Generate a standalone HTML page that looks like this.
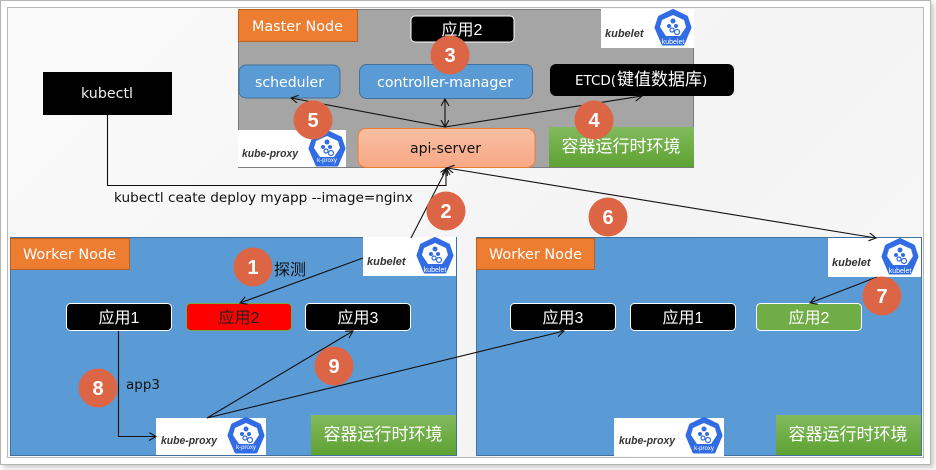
<!DOCTYPE html>
<html><head><meta charset="utf-8">
<style>
html,body{margin:0;padding:0;background:#fff}
body{width:936px;height:470px;position:relative;overflow:hidden;font-family:"Liberation Sans","Noto Sans CJK SC",sans-serif}
#outer{position:absolute;left:0;top:0;width:929px;height:463px;background:#fff;border:1px solid #b4b4b4;box-shadow:3px 3px 5px #ccc;box-sizing:content-box}
#inner{position:absolute;left:7px;top:7px;width:915px;height:449px;background:linear-gradient(135deg,#fafafa,#f4f4f4 60%,#f7f7f7);border:1px solid #b8b8b8}
svg{position:absolute;left:0;top:0}
.l{font-family:"DejaVu Sans",sans-serif}
</style></head><body>
<div id="outer"></div><div id="inner"></div>
<svg width="936" height="470" viewBox="0 0 936 470" xmlns="http://www.w3.org/2000/svg" font-family="'Liberation Sans','Noto Sans CJK SC',sans-serif">
<defs>
<linearGradient id="g" x1="0" y1="0" x2="0" y2="1"><stop offset="0" stop-color="#82ba5d"/><stop offset="1" stop-color="#5ea232"/></linearGradient>
<linearGradient id="o" x1="0" y1="0" x2="0" y2="1"><stop offset="0" stop-color="#f7bfa3"/><stop offset="1" stop-color="#f8a885"/></linearGradient>
<marker id="a" markerWidth="10" markerHeight="10" refX="8" refY="4" orient="auto-start-reverse" markerUnits="userSpaceOnUse"><path d="M1 0L8 4L1 8" fill="none" stroke="#111" stroke-width="1.1"/></marker>
<g id="hex"><path d="M0-17.500L13.500-11L17-.5L10 16L-10 16L-17-.5L-13.500-11Z" fill="#326ce5" stroke="#326ce5" stroke-width="3" stroke-linejoin="round"/><path d="M0-13L11-8L13-1L7 8L-7 8L-13-1L-11-8Z" fill="#fff"/><circle cx="0" cy="-7" r="2.500" fill="#326ce5"/><circle cx="-4" cy="-2" r="2" fill="#326ce5"/><circle cx="3" cy="-2" r="2" fill="#326ce5"/><circle cx="-1" cy="2" r="2" fill="none" stroke="#326ce5" stroke-width="1.200"/><circle cx="4" cy="4" r="2.500" fill="none" stroke="#326ce5" stroke-width="1.200"/></g>
</defs>

<!-- Master -->
<rect x="238.500" y="9.500" width="455" height="158" fill="#a5a5a5" stroke="#7c7c7c"/>
<rect x="238.500" y="9.500" width="119" height="32" fill="#ed7d31" stroke="#b85f22"/>
<text class="l" x="252" y="31" font-size="14" fill="#fff" textLength="91" lengthAdjust="spacingAndGlyphs">Master Node</text>
<rect x="411" y="16" width="103" height="26" rx="4" fill="#000" stroke="#fff"/>
<text x="462" y="35" font-size="16" fill="#fff" text-anchor="middle">应用2</text>
<rect x="239" y="65" width="101" height="33" rx="7" fill="#5b9bd5" stroke="#41719c"/>
<text class="l" x="255" y="87" font-size="14" fill="#fff" textLength="69" lengthAdjust="spacingAndGlyphs">scheduler</text>
<rect x="359.500" y="64.500" width="173" height="34" rx="7" fill="#5b9bd5" stroke="#41719c"/>
<text class="l" x="377" y="87" font-size="14" fill="#fff" textLength="136" lengthAdjust="spacingAndGlyphs">controller-manager</text>
<rect x="550" y="64" width="184" height="32" rx="6" fill="#000"/>
<text x="575" y="85" font-size="17" fill="#fff"><tspan class="l" font-size="13.500">ETCD(</tspan><tspan x="617">键值数据库</tspan><tspan class="l" x="702" font-size="13.500">)</tspan></text>
<rect x="238" y="130" width="108" height="37" fill="#fff"/>
<text x="242" y="157" font-size="11" font-style="italic" font-weight="bold" fill="#333" textLength="56" lengthAdjust="spacingAndGlyphs">kube-proxy</text>
<use href="#hex" transform="translate(327,149)"/>
<text x="327" y="162" font-size="6" fill="#fff" text-anchor="middle">k-proxy</text>
<rect x="358" y="128.500" width="177" height="39" rx="8" fill="url(#o)" stroke="#ed7d31"/>
<text class="l" x="410" y="153" font-size="14" fill="#111" textLength="71" lengthAdjust="spacingAndGlyphs">api-server</text>
<rect x="549" y="127" width="145" height="40" fill="url(#g)"/>
<text x="621" y="152" font-size="17" fill="#fff" text-anchor="middle">容器运行时环境</text>
<rect x="601" y="9" width="93" height="39" fill="#fff"/>
<text x="605" y="37" font-size="11" font-style="italic" font-weight="bold" fill="#333">kubelet</text>
<use href="#hex" transform="translate(673,28)"/>
<text x="673" y="44" font-size="7" fill="#fff" text-anchor="middle">kubelet</text>

<!-- kubectl -->
<rect x="43" y="72" width="129" height="43" fill="#000"/>
<text class="l" x="81" y="98" font-size="14" fill="#eee" textLength="52" lengthAdjust="spacingAndGlyphs">kubectl</text>

<!-- Worker 1 -->
<rect x="10.500" y="237.500" width="446" height="218" fill="#5b9bd5" stroke="#41719c"/>
<rect x="10.500" y="238.500" width="119" height="31" fill="#ed7d31" stroke="#b85f22"/>
<text class="l" x="23" y="259" font-size="14" fill="#fff" textLength="93" lengthAdjust="spacingAndGlyphs">Worker Node</text>
<rect x="363" y="237" width="93" height="39" fill="#fff"/>
<text x="367" y="265" font-size="11" font-style="italic" font-weight="bold" fill="#333">kubelet</text>
<use href="#hex" transform="translate(435,256)"/>
<text x="435" y="272" font-size="7" fill="#fff" text-anchor="middle">kubelet</text>
<rect x="66.500" y="303.500" width="105" height="27" rx="4" fill="#000" stroke="#fff"/>
<text x="119" y="323" font-size="16" fill="#fff" text-anchor="middle">应用1</text>
<rect x="186.500" y="303.500" width="105" height="27" rx="4" fill="#f00" stroke="#70ad47"/>
<text x="239" y="323" font-size="16" fill="#222" text-anchor="middle">应用2</text>
<rect x="305.500" y="303.500" width="105" height="27" rx="4" fill="#000" stroke="#fff"/>
<text x="358" y="323" font-size="16" fill="#fff" text-anchor="middle">应用3</text>
<rect x="156" y="418" width="110" height="37" fill="#fff"/>
<text x="161" y="444" font-size="11" font-style="italic" font-weight="bold" fill="#333" textLength="56" lengthAdjust="spacingAndGlyphs">kube-proxy</text>
<use href="#hex" transform="translate(246,436)"/>
<text x="246" y="449" font-size="6" fill="#fff" text-anchor="middle">k-proxy</text>
<rect x="311" y="415" width="145" height="40" fill="url(#g)"/>
<text x="383" y="440" font-size="17" fill="#fff" text-anchor="middle">容器运行时环境</text>

<!-- Worker 2 -->
<rect x="476.500" y="237.500" width="445" height="218" fill="#5b9bd5" stroke="#41719c"/>
<rect x="476.500" y="238.500" width="118" height="31" fill="#ed7d31" stroke="#b85f22"/>
<text class="l" x="489" y="259" font-size="14" fill="#fff" textLength="93" lengthAdjust="spacingAndGlyphs">Worker Node</text>
<rect x="828" y="238" width="93" height="39" fill="#fff"/>
<text x="832" y="266" font-size="11" font-style="italic" font-weight="bold" fill="#333">kubelet</text>
<use href="#hex" transform="translate(900,257)"/>
<text x="900" y="273" font-size="7" fill="#fff" text-anchor="middle">kubelet</text>
<rect x="510.500" y="303.500" width="105" height="27" rx="4" fill="#000" stroke="#fff"/>
<text x="563" y="323" font-size="16" fill="#fff" text-anchor="middle">应用3</text>
<rect x="630.500" y="303.500" width="105" height="27" rx="4" fill="#000" stroke="#fff"/>
<text x="683" y="323" font-size="16" fill="#fff" text-anchor="middle">应用1</text>
<rect x="756.500" y="303.500" width="105" height="27" rx="4" fill="#70ad47" stroke="#fff"/>
<text x="809" y="323" font-size="16" fill="#fff" text-anchor="middle">应用2</text>
<rect x="614" y="418" width="110" height="38" fill="#fff"/>
<text x="619" y="444" font-size="11" font-style="italic" font-weight="bold" fill="#333" textLength="56" lengthAdjust="spacingAndGlyphs">kube-proxy</text>
<use href="#hex" transform="translate(704,436)"/>
<text x="704" y="450" font-size="6" fill="#fff" text-anchor="middle">k-proxy</text>
<rect x="776" y="415" width="145" height="40" fill="url(#g)"/>
<text x="848" y="440" font-size="17" fill="#fff" text-anchor="middle">容器运行时环境</text>

<!-- Connectors -->
<g fill="none" stroke="#111" stroke-width="1.100">
<path d="M445 127L291 98" marker-end="url(#a)"/>
<path d="M445 127L445 99" marker-end="url(#a)" marker-start="url(#a)"/>
<path d="M445 127L642 96" marker-end="url(#a)"/>
<path d="M107.500 115V185.500H446V168" marker-end="url(#a)"/>
<path d="M411 238L447 168" marker-end="url(#a)"/>
<path d="M876 238L447 168" marker-start="url(#a)" marker-end="url(#a)"/>
<path d="M363 258L240 303" marker-end="url(#a)"/>
<path d="M877 277L810 303" marker-end="url(#a)"/>
<path d="M118.500 331V436.500H156" marker-end="url(#a)"/>
<path d="M207 418L353 331" marker-end="url(#a)"/>
<path d="M207 418L564 331" marker-end="url(#a)"/>
</g>

<text class="l" x="114" y="202" font-size="13" fill="#111" textLength="299" lengthAdjust="spacingAndGlyphs">kubectl ceate deploy myapp --image=nginx</text>
<text x="274" y="275" font-size="16" fill="#111">探测</text>
<text class="l" x="126" y="389" font-size="13.500" fill="#111" textLength="34" lengthAdjust="spacingAndGlyphs">app3</text>

<!-- Number badges -->
<g fill="#dc6545">
<circle cx="253" cy="267" r="19.500"/><circle cx="446" cy="211" r="19.500"/><circle cx="450" cy="55" r="19.500"/>
<circle cx="594" cy="120" r="19.500"/><circle cx="313" cy="120" r="19.500"/><circle cx="608" cy="217" r="19.500"/>
<circle cx="882" cy="296" r="19.500"/><circle cx="98" cy="388" r="19.500"/><circle cx="334" cy="366" r="19.500"/>
</g>
<g fill="#fff" font-size="20" font-weight="bold" text-anchor="middle">
<text x="253" y="274">1</text><text x="446" y="218">2</text><text x="450" y="62">3</text>
<text x="594" y="127">4</text><text x="313" y="127">5</text><text x="608" y="224">6</text>
<text x="882" y="303">7</text><text x="98" y="395">8</text><text x="334" y="373">9</text>
</g>
</svg>
</body></html>
